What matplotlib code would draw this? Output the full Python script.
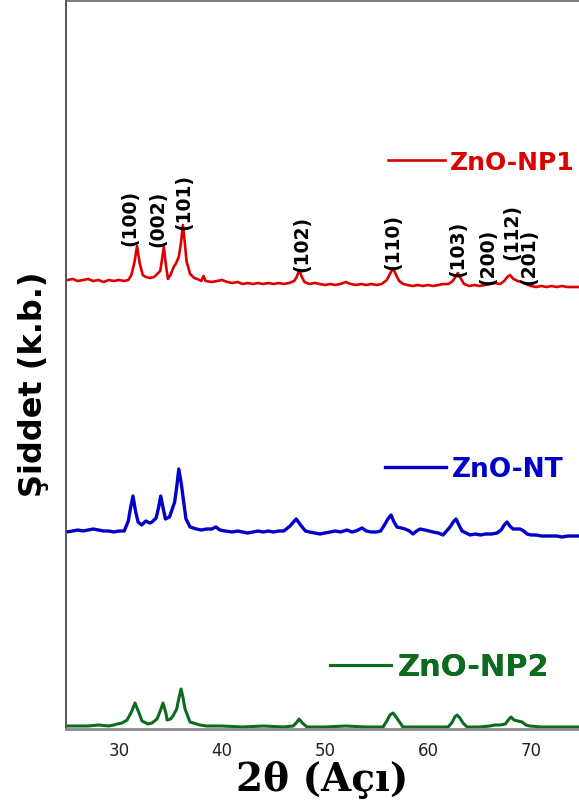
import matplotlib
matplotlib.use("Agg")
import matplotlib.pyplot as plt

# ---- data (2theta in degrees, intensity in a.u.) ----
tt_np1 = [25.0, 25.5, 26.0, 26.5, 27.0, 27.5, 28.0, 28.5, 29.0, 29.5, 30.0, 30.5,
          30.9, 31.2, 31.5, 31.75, 32.0, 32.3, 32.6, 33.0, 33.4, 33.7, 34.0, 34.15,
          34.35, 34.55, 34.75, 35.0, 35.3, 35.5, 35.8, 36.0, 36.2, 36.4, 36.55, 36.9,
          37.3, 37.6, 38.0, 38.2, 38.4, 39.0, 39.5, 40.0, 40.5, 41.0, 41.5, 42.0,
          42.5, 43.0, 43.5, 44.0, 44.5, 45.0, 45.5, 46.0, 46.5, 47.0, 47.25, 47.5,
          47.75, 48.0, 48.5, 49.0, 49.5, 50.0, 50.5, 51.0, 51.5, 52.0, 52.5, 53.0,
          53.5, 54.0, 54.5, 55.0, 55.5, 56.0, 56.3, 56.6, 56.9, 57.2, 57.6, 58.0,
          58.5, 59.0, 59.5, 60.0, 60.5, 61.0, 61.5, 62.0, 62.4, 62.65, 62.9, 63.15,
          63.5, 64.0, 64.5, 65.0, 65.5, 66.0, 66.5, 67.0, 67.4, 67.7, 67.95, 68.3,
          68.7, 69.1, 69.5, 70.0, 70.5, 71.0, 71.5, 72.0, 72.5, 73.0, 73.5, 74.0, 74.7]
int_np1 = [9, 10, 8, 9, 10, 8, 9, 7, 9, 8, 9, 8,
           9, 14, 27, 43, 26, 14, 12, 11, 12, 15, 18, 28,
           42, 24, 10, 14, 22, 25, 32, 45, 64, 45, 28, 15,
           11, 10, 8, 13, 8, 7, 8, 9, 7, 6, 7, 5,
           6, 5, 6, 5, 6, 5, 6, 5, 6, 8, 12, 19,
           12, 7, 5, 6, 5, 4, 5, 4, 5, 7, 5, 4,
           5, 4, 5, 4, 5, 9, 15, 21, 14, 8, 5, 4,
           3, 4, 3, 4, 3, 4, 5, 5, 8, 12, 16, 11,
           5, 3, 4, 3, 4, 5, 6, 5, 8, 12, 14, 10,
           8, 7, 5, 3, 2, 3, 2, 3, 2, 3, 2, 2, 2]

tt_nt = [24.85, 25.5, 26.0, 26.5, 27.0, 27.5, 28.0, 28.5, 29.0, 29.5, 30.0, 30.5,
         30.9, 31.1, 31.35, 31.6, 31.85, 32.2, 32.6, 33.0, 33.2, 33.6, 33.85, 34.05,
         34.3, 34.5, 34.9, 35.4, 35.6, 35.8, 36.05, 36.2, 36.5, 36.9, 37.5, 38.0,
         38.5, 39.0, 39.4, 39.8, 40.3, 41.0, 41.5, 42.0, 42.5, 43.0, 43.5, 44.0,
         44.5, 45.0, 45.5, 46.0, 46.6, 47.2, 47.7, 48.1, 48.5, 49.0, 49.5, 50.0,
         50.5, 51.0, 51.5, 52.14, 52.6, 53.0, 53.6, 54.0, 54.5, 55.0, 55.4, 55.83,
         56.1, 56.41, 56.7, 56.99, 57.4, 57.77, 58.2, 58.54, 58.9, 59.22, 59.7, 60.1,
         60.48, 61.0, 61.46, 61.8, 62.14, 62.45, 62.72, 63.0, 63.3, 63.7, 64.08, 64.6,
         65.1, 65.6, 66.2, 66.7, 67.1, 67.4, 67.67, 67.95, 68.25, 68.6, 68.93, 69.3,
         69.61, 70.0, 70.5, 71.0, 71.84, 72.5, 73.0, 73.6, 74.2, 74.7]
int_nt = [7, 8, 9, 8, 9, 10, 9, 8, 8, 7, 8, 8,
          18, 30, 43, 28, 17, 14, 18, 16, 17, 21, 32, 43,
          30, 20, 22, 37, 52, 70, 55, 43, 20, 12, 10, 9,
          10, 10, 12, 9, 8, 7, 8, 7, 6, 7, 8, 7,
          8, 7, 8, 8, 13, 20, 13, 8, 7, 6, 5, 6,
          7, 8, 7, 9, 7, 8, 11, 8, 7, 7, 8, 15,
          20, 24, 17, 12, 11, 10, 8, 5, 8, 10, 9, 8,
          7, 6, 4, 8, 12, 17, 20, 14, 8, 6, 4, 5,
          4, 5, 5, 6, 9, 14, 17, 13, 10, 10, 10, 8,
          5, 4, 4, 3, 3, 3, 2, 3, 3, 3]

tt_np2 = [24.85, 26.0, 27.0, 28.0, 29.0, 29.5, 29.8, 30.3, 30.78, 31.2, 31.55, 31.9,
          32.23, 32.82, 33.2, 33.69, 34.0, 34.27, 34.55, 34.66, 35.0, 35.24, 35.6, 35.73,
          36.02, 36.2, 36.41, 36.89, 37.86, 38.5, 40.0, 42.0, 44.0, 46.0, 46.9, 47.2,
          47.48, 47.8, 48.25, 50.0, 52.0, 54.0, 55.63, 56.0, 56.3, 56.6, 56.9, 57.3,
          57.57, 59.0, 61.0, 61.94, 62.3, 62.6, 62.82, 63.1, 63.4, 63.79, 65.0, 66.0,
          66.5, 67.0, 67.5, 67.8, 68.06, 68.35, 68.7, 69.13, 69.5, 69.86, 71.0, 73.0, 74.7]
int_np2 = [3, 3, 3, 4, 3, 4, 5, 6, 9, 17, 26, 17,
           8, 5, 6, 10, 18, 26, 16, 9, 10, 13, 20, 27,
           40, 32, 20, 7, 4, 3, 3, 2, 3, 2, 3, 6,
           10, 6, 2, 2, 3, 2, 2, 8, 14, 16, 12, 6,
           2, 2, 2, 2, 6, 12, 14, 11, 6, 2, 2, 3,
           4, 4, 5, 9, 12, 9, 8, 7, 4, 3, 2, 2, 2]

offsets = {"ZnO-NP1": 440, "ZnO-NT": 190, "ZnO-NP2": 0}

hkl_labels = ["(100)", "(002)", "(101)", "(102)", "(110)", "(103)", "(200)", "(112)", "(201)"]
hkl_x = [31.02, 33.79, 36.26, 47.77, 56.60, 62.86, 65.83, 68.16, 69.76]
hkl_y = [484, 483, 500, 458, 460, 453, 445, 470, 445]

xticks = [30, 40, 50, 60, 70]

red = "#dd0000"
blue = "#0000c8"
green = "#0d6b1f"

fig = plt.figure(figsize=(5.79, 8.03), dpi=100)
ax = fig.add_axes([66 / 579, 73 / 803, 513 / 579, 728 / 803])

l1, = ax.plot(tt_np1, [v + offsets["ZnO-NP1"] for v in int_np1], color=red, lw=1.9)
l2, = ax.plot(tt_nt, [v + offsets["ZnO-NT"] for v in int_nt], color=blue, lw=2.4)
l3, = ax.plot(tt_np2, [v + offsets["ZnO-NP2"] for v in int_np2], color=green, lw=2.2)

for lab, x, y in zip(hkl_labels, hkl_x, hkl_y):
    ax.text(x, y, lab, rotation=90, ha="center", va="bottom",
            fontsize=13.5, fontweight="bold", family="DejaVu Sans", color="black")

ax.set_xlim(24.85, 74.66)
ax.set_ylim(0, 728)
ax.set_xticks(xticks)
ax.set_yticks([])
ax.tick_params(axis="x", length=0, pad=9, labelsize=12, labelcolor="#222222")

ax.spines["right"].set_visible(False)
ax.spines["left"].set_color("#555555")
ax.spines["left"].set_linewidth(1.4)
ax.spines["top"].set_color("#666666")
ax.spines["top"].set_linewidth(1.2)
ax.spines["bottom"].set_color("#8a8a8a")
ax.spines["bottom"].set_linewidth(2.0)

ax.set_xlabel("2θ (Açı)", fontsize=28, fontweight="bold", family="DejaVu Serif")
ax.xaxis.set_label_coords(0.499, -0.043)
ax.set_ylabel("Şiddet (k.b.)", fontsize=23, fontweight="bold", family="DejaVu Sans")
ax.yaxis.set_label_coords(-0.033, 0.475)

# three separate legend entries placed beside each pattern
leg_specs = [
    (l1, "ZnO-NP1", red, 18, 2.28, 0.2, 388, 163),
    (l2, "ZnO-NT", blue, 19, 2.3, 0.25, 385, 470),
    (l3, "ZnO-NP2", green, 22, 2.0, 0.22, 330, 668),
]
for h, lab, col, fs, hl, tp, px, py in leg_specs:
    lg = ax.legend([h], [lab], loc="center left",
                   bbox_to_anchor=(px / 579, 1 - py / 803), bbox_transform=fig.transFigure,
                   frameon=False, borderpad=0, borderaxespad=0, handlelength=hl,
                   handletextpad=tp, labelcolor=col,
                   prop={"family": "DejaVu Sans", "weight": "bold", "size": fs})
    ax.add_artist(lg)

fig.savefig("out.png", dpi=100)
